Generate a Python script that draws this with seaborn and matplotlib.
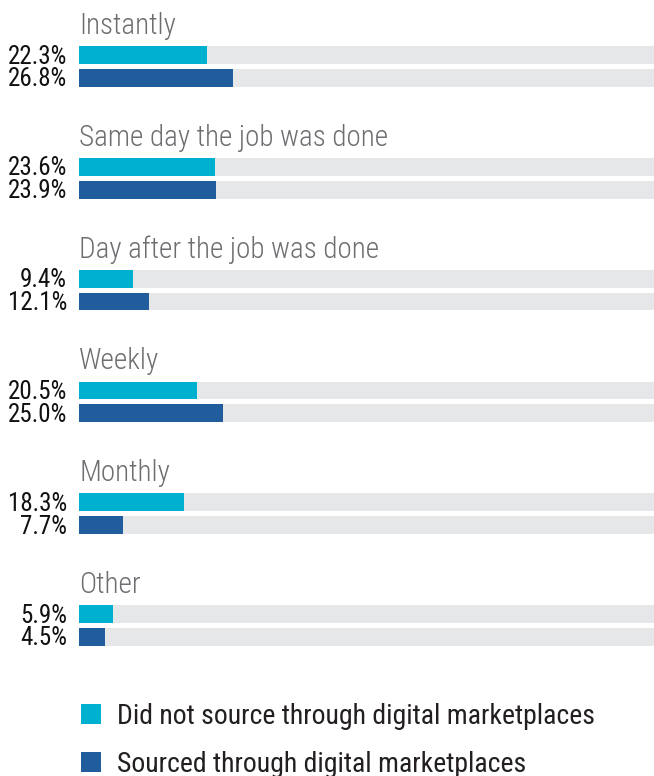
import matplotlib
matplotlib.use("Agg")
import matplotlib.pyplot as plt
from matplotlib import font_manager as fm
from matplotlib.patches import Patch
import seaborn as sns
import pandas as pd

# Payment timing by sourcing channel (share of respondents, %)
categories = ["Instantly", "Same day the job was done", "Day after the job was done",
              "Weekly", "Monthly", "Other"]
series = ["Did not source through digital marketplaces",
          "Sourced through digital marketplaces"]
not_sourced = [22.3, 23.6, 9.4, 20.5, 18.3, 5.9]
sourced = [26.8, 23.9, 12.1, 25.0, 7.7, 4.5]
colors = ["#00b0d0", "#215c9c"]
track_color = "#e6e7e9"

sns.set_theme(style="white")
installed = {f.name for f in fm.fontManager.ttflist}
family = "Roboto Condensed" if "Roboto Condensed" in installed else "Roboto"
plt.rcParams["font.family"] = [family, "DejaVu Sans"]

df = pd.DataFrame({
    "category": categories * 2,
    "series": [series[0]] * len(categories) + [series[1]] * len(categories),
    "value": not_sourced + sourced,
})
track = df.assign(value=100.0)

W, H, DPI = 654, 776, 100
fig = plt.figure(figsize=(W / DPI, H / DPI), dpi=DPI)
ax = fig.add_axes([79 / W, 0, 1 - 79 / W, 1])

bar_kw = dict(y="category", hue="series", orient="h", width=0.41, gap=0.22,
              order=categories, hue_order=series, legend=False,
              saturation=1, linewidth=0)
sns.barplot(data=track, x="value", palette=[track_color, track_color],
            ax=ax, **bar_kw)
sns.barplot(data=df, x="value", palette=colors, ax=ax, **bar_kw)

pitch = 111.8
ax.set_xlim(0, 100)
ax.set_ylim((H - 66.5) / pitch, -66.5 / pitch)
ax.set_axis_off()

# Category headings above each pair of bars
for i, cat in enumerate(categories):
    ax.text(0, i - 32.5 / pitch, cat, fontsize=21, fontweight="light",
            color="#6d6e71", va="baseline", ha="left")

# Value labels to the left of each bar
slot = 0.41 / 2
for i in range(len(categories)):
    for j, vals in enumerate([not_sourced, sourced]):
        yc = i + (j - 0.5) * slot
        ax.annotate(f"{vals[i]:.1f}%", xy=(0, yc), xytext=(-12, -8.5),
                    textcoords="offset pixels", ha="right", va="baseline",
                    fontsize=18, color="#111111")

handles = [Patch(facecolor=c, edgecolor="none") for c in colors]
fig.legend(handles, series, loc="upper left",
           bbox_to_anchor=(81 / W, 1 - 703 / H), frameon=False,
           fontsize=20, handlelength=0.72, handleheight=0.72,
           handletextpad=0.58, labelspacing=0.74, borderpad=0,
           borderaxespad=0, labelcolor="#231f20")

fig.savefig("out.png", dpi=DPI)
